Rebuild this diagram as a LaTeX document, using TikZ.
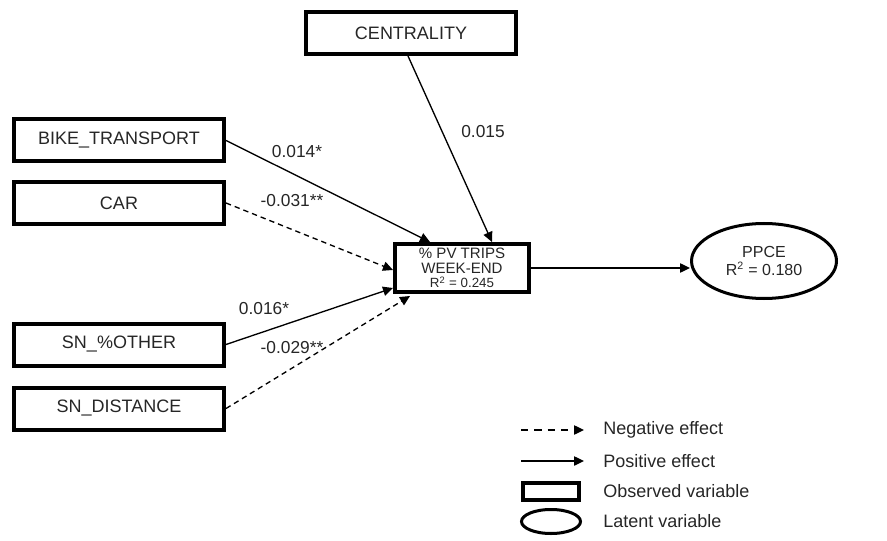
\documentclass[tikz,border=0pt]{standalone}
\usepackage{fontspec}
\setmainfont{Liberation Sans}
\usetikzlibrary{shapes.geometric,arrows.meta,calc}
\begin{document}
\begin{tikzpicture}[x=0.75pt,y=-0.75pt,
  obs/.style={draw=black,line width=3pt,minimum width=157.5pt,minimum height=31.5pt,inner sep=0pt,font=\fontsize{13.5}{16}\selectfont,text=black!85},
  cen/.style={draw=black,line width=3pt,minimum width=100.5pt,minimum height=36pt,inner sep=0pt,align=center,font=\fontsize{11.3}{11}\selectfont,text=black!85},
  lat/.style={ellipse,draw=black,line width=2.25pt,minimum width=108.75pt,minimum height=56.25pt,inner sep=0pt,align=center,font=\fontsize{12}{13}\selectfont,text=black!85},
  posarrow/.style={line width=1pt,-{Triangle[length=7.5pt,width=7pt]}},
  negarrow/.style={posarrow,dash pattern=on 4pt off 3pt},
  legneg/.style={posarrow,dash pattern=on 5.5pt off 4.5pt},
  lab/.style={font=\fontsize{13}{13}\selectfont,text=black!85},
  leg/.style={font=\fontsize{13.5}{13.5}\selectfont,text=black!85,anchor=west,inner sep=0pt}
]
\useasboundingbox (0,0) rectangle (887,541);

% observed variables
\node[obs] (cent) at (411,33) {CENTRALITY};
\node[obs] (bike) at (119,140.5) {BIKE\_TRANSPORT};
\node[obs] (car) at (119,203) {CAR};
\node[obs] (oth) at (119,344.5) {SN\_\%OTHER};
\node[obs] (dist) at (119,408.5) {SN\_DISTANCE};
\node[cen] (pv) at (462,268) {\% PV TRIPS\\WEEK-END\\{\fontsize{10}{10}\selectfont R\textsuperscript{2} = 0.245}};
\node[lat] (ppce) at (764,261) {PPCE\\R\textsuperscript{2} = 0.180};

% paths
\draw[posarrow] ($(cent.south west)+(104,0)$) -- ($(pv.north west)+(99,0)$);
\draw[posarrow] (bike.east) -- ($(pv.north west)+(37,0)$);
\draw[negarrow] (car.east) -- ($(pv.west)+(0,2)$);
\draw[posarrow] (oth.east) -- ($(pv.south west)+(0,-6)$);
\draw[negarrow] (dist.east) -- ($(pv.south west)+(17,2)$);
\draw[posarrow] (pv.east) -- (pv.east -| ppce.west);

% coefficients
\node[lab] (l1) at (483,132) {0.015};
\node[lab] (l2) at (297,152) {0.014*};
\node[lab] (l3) at (292,201) {-0.031**};
\node[lab] (l4) at (264,309) {0.016*};
\node[lab] (l5) at (292,348) {-0.029**};

% legend
\coordinate (n1) at (521,430);
\coordinate (n2) at (584,430);
\coordinate (p1) at (521,461);
\coordinate (p2) at (584,461);
\draw[legneg] (n1) -- (n2);
\draw[posarrow] (p1) -- (p2);
\node[draw=black,line width=3pt,minimum width=42pt,minimum height=12.75pt,inner sep=0pt] (lobs) at (550.5,491) {};
\node[ellipse,draw=black,line width=2.25pt,minimum width=44.25pt,minimum height=18pt,inner sep=0pt] (llat) at (551,521.5) {};
\node[leg] (t1) at (603,430) {Negative effect};
\node[leg] (t2) at (603,461) {Positive effect};
\node[leg] (t3) at (603,491) {Observed variable};
\node[leg] (t4) at (603,521) {Latent variable};
\end{tikzpicture}
\end{document}
